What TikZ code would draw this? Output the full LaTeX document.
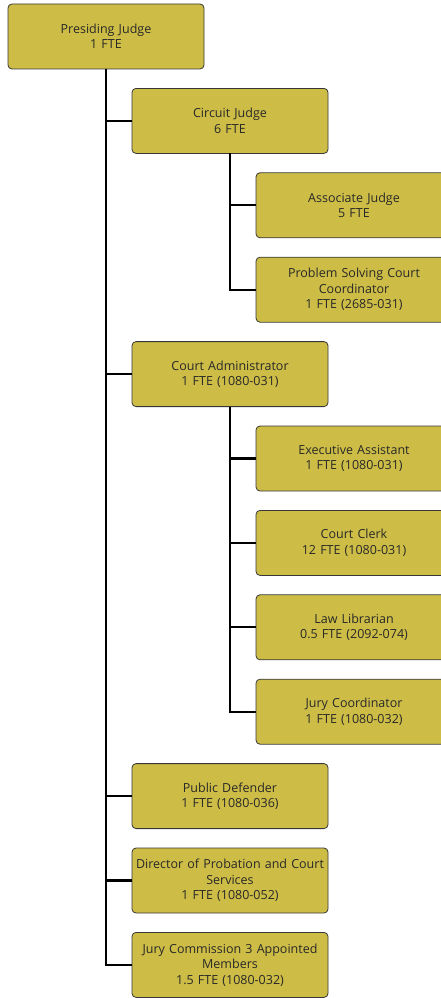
\documentclass[tikz,border=0pt]{standalone}
\usepackage{fontspec}
\setmainfont{Open Sans}
\usepackage{xcolor}
\usetikzlibrary{positioning}
\definecolor{boxgold}{RGB}{205,189,71}
\definecolor{boxedge}{RGB}{55,55,55}
\definecolor{boxtext}{RGB}{40,40,40}

\begin{document}
\begin{tikzpicture}[x=1pt, y=-1pt, node distance=19.4pt,
        box/.style={rectangle, draw=boxedge, fill=boxgold, rounded corners=4pt, line width=0.8pt, outer sep=0pt, minimum width=196pt, minimum height=65pt, text width=192pt, align=center, inner sep=0pt, font=\fontsize{12.5}{15.5}\selectfont, text=boxtext},
        link/.style={draw=black, line width=2.2pt}]

        \useasboundingbox (0,0) rectangle (441,998);

        % Top
        \node[box, anchor=north west] (pj) at (8,4) {Presiding Judge\\1 FTE};

        % Judges
        \node[box, below right=19.4pt and 124pt of pj.south west] (cj) {Circuit Judge\\6 FTE};
        \node[box, below right=19.4pt and 124pt of cj.south west] (aj) {Associate Judge\\5 FTE};
        \node[box, below=of aj] (ps) {Problem Solving Court\\Coordinator\\1 FTE (2685-031)};

        % Administration
        \node[box, below=of ps, xshift=-124pt] (ca) {Court Administrator\\1 FTE (1080-031)};
        \node[box, below right=19.4pt and 124pt of ca.south west] (ea) {Executive Assistant\\1 FTE (1080-031)};
        \node[box, below=of ea] (cc) {Court Clerk\\12 FTE (1080-031)};
        \node[box, below=of cc] (ll) {Law Librarian\\0.5 FTE (2092-074)};
        \node[box, below=of ll] (jc) {Jury Coordinator\\1 FTE (1080-032)};

        % Other offices
        \node[box, below=of jc, xshift=-124pt] (pd) {Public Defender\\1 FTE (1080-036)};
        \node[box, below=of pd] (dp) {Director of Probation and Court\\Services\\1 FTE (1080-052)};
        \node[box, below=of dp] (jm) {Jury Commission 3 Appointed\\Members\\1.5 FTE (1080-032)};

        % Connections
        \draw[link] (pj.south) |- (cj.west);
        \draw[link] (pj.south) |- (ca.west);
        \draw[link] (pj.south) |- (pd.west);
        \draw[link] (pj.south) |- (dp.west);
        \draw[link] (pj.south) |- (jm.west);
        \draw[link] (cj.south) |- (aj.west);
        \draw[link] (cj.south) |- (ps.west);
        \draw[link] (ca.south) |- (ea.west);
        \draw[link] (ca.south) |- (cc.west);
        \draw[link] (ca.south) |- (ll.west);
        \draw[link] (ca.south) |- (jc.west);
    \end{tikzpicture}
\end{document}
